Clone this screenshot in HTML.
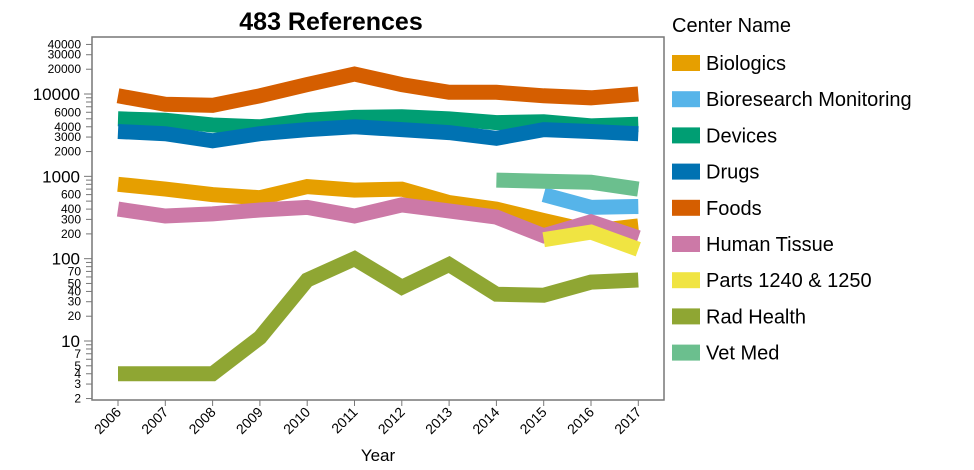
<!DOCTYPE html>
<html><head><meta charset="utf-8"><style>
html,body{margin:0;padding:0;background:#fff;}
svg{display:block;font-family:"Liberation Sans",Arial,sans-serif;}
</style></head><body>
<svg id="s" width="974" height="470" viewBox="0 0 974 470">
<rect x="92" y="37" width="572" height="363" fill="#fff" stroke="#777" stroke-width="1.5"/>
<text x="331" y="30" text-anchor="middle" font-size="25" font-weight="bold">483 References</text>
<text x="378" y="461" text-anchor="middle" font-size="17">Year</text>
<text x="672" y="32" font-size="20">Center Name</text>
<g id="g"></g>
</svg>
<script>
var g=document.getElementById('g'),h='';
function Y(v){return 341-82.33*(Math.log10(v)-1);}
function X(yr){return 118+(yr-2006)*47.3;}
var major=[10,100,1000,10000],small=[2,3,4,5,7,20,30,40,50,70,200,300,400,600,2000,3000,4000,6000,20000,30000,40000];
var minorT=[];for(var d=1;d<=4;d++)for(var k=2;k<=9;k++)minorT.push(k*Math.pow(10,d));minorT.push(2,3,4,5,6,7,8,9);
minorT.forEach(function(v){var y=Y(v);if(y>=37&&y<=400)h+='<line x1="86" x2="92" y1="'+y+'" y2="'+y+'" stroke="#777"/>';});
major.forEach(function(v){var y=Y(v);h+='<line x1="84" x2="92" y1="'+y+'" y2="'+y+'" stroke="#777"/><text x="80" y="'+(y+6)+'" text-anchor="end" font-size="17">'+v+'</text>';});
small.forEach(function(v){var y=Y(v);h+='<text x="81" y="'+(y+4)+'" text-anchor="end" font-size="12">'+v+'</text>';});
for(var yr=2006;yr<=2017;yr++){var x=X(yr);h+='<line x1="'+x+'" x2="'+x+'" y1="400" y2="406" stroke="#777"/><text transform="translate('+(x+4)+',413) rotate(-45)" text-anchor="end" font-size="14">'+yr+'</text>';}
var S=[
['Biologics','#E69F00',2006,[800,700,600,550,750,680,700,480,400,290,215,250]],
['Bioresearch Monitoring','#56B4E9',2015,[600,420,430]],
['Devices','#009E73',2006,[5000,4800,4200,4000,4800,5200,5300,5000,4500,4600,4100,4300]],
['Drugs','#0072B2',2006,[3500,3300,2700,3300,3700,4000,3700,3400,2900,3700,3500,3300]],
['Foods','#D55E00',2006,[9500,7500,7300,9500,13000,17500,13000,10500,10500,9500,9000,10000]],
['Human Tissue','#CC79A7',2006,[400,330,350,390,420,330,450,380,320,190,280,180]],
['Parts 1240 & 1250','#F0E442',2015,[170,210,130]],
['Rad Health','#8FA633',2006,[4,4,4,11,55,100,45,85,37,36,52,55]],
['Vet Med','#6BBF8E',2014,[900,870,850,700]]];
S.forEach(function(s,i){var p=s[3].map(function(v,j){return X(s[2]+j).toFixed(1)+','+Y(v).toFixed(1);}).join(' ');
h+='<polyline points="'+p+'" fill="none" stroke="'+s[1]+'" stroke-width="15" stroke-linejoin="miter"/>';
var ly=63+i*36.2;h+='<rect x="672" y="'+(ly-8)+'" width="28" height="16" fill="'+s[1]+'"/><text x="706" y="'+(ly+7)+'" font-size="20">'+s[0].replace('&','&amp;')+'</text>';});
g.innerHTML=h;
</script>
</body></html>
